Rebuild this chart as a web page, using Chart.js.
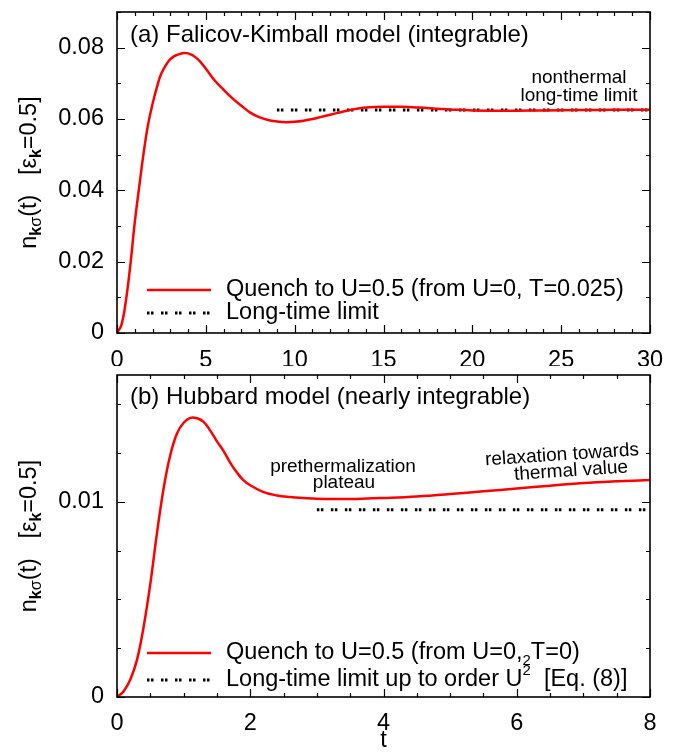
<!DOCTYPE html>
<html>
<head>
<meta charset="utf-8">
<script src="https://cdn.jsdelivr.net/npm/chart.js@4.4.1/dist/chart.umd.min.js"></script>
<style>
  body { margin: 0; background: #fff; }
  #wrap { position: relative; width: 673px; height: 752px; }
  canvas { position: absolute; left: 0; }
</style>
</head>
<body>
<div id="wrap">
  <canvas id="chartA" width="673" height="366" style="top:0;width:673px;height:366px"></canvas>
  <canvas id="chartB" width="673" height="386" style="top:366px;width:673px;height:386px"></canvas>
</div>
<script>
// (a) Falicov-Kimball quench
const tFK = [0, 0.25, 0.5, 0.75, 1, 1.25, 1.5, 1.75, 2, 2.25, 2.5, 3, 3.5, 4, 4.5, 5, 5.5, 6, 6.5, 7, 7.5, 8, 8.5, 9, 9.5, 10,
             10.5, 11, 11.5, 12, 12.5, 13, 13.5, 14, 15, 16, 17, 18, 19, 20, 22, 24, 26, 28, 30];
const nFK = [0, 0.0023, 0.009, 0.019, 0.031, 0.041, 0.0505, 0.0585, 0.0642, 0.069, 0.0728, 0.0768, 0.0782, 0.0784, 0.0770, 0.0741, 0.0708, 0.0682, 0.0658, 0.0637, 0.0618, 0.0605, 0.0597, 0.0593, 0.0591, 0.0592,
             0.0595, 0.0600, 0.0606, 0.0612, 0.0618, 0.0624, 0.0629, 0.0632, 0.0634, 0.0634, 0.0632, 0.0629, 0.0626, 0.0624, 0.0623, 0.0624, 0.0625, 0.0626, 0.0626];
const tLimFK = [9, 30];
const nLimFK = [0.0625, 0.0625];

// (b) Hubbard quench
const tHub = [0, 0.1, 0.2, 0.3, 0.4, 0.5, 0.6, 0.7, 0.8, 0.9, 1.0, 1.1, 1.2, 1.3, 1.4, 1.5, 1.6, 1.7, 1.8, 1.9, 2.0,
              2.2, 2.4, 2.6, 2.8, 3.0, 3.3, 3.6, 4.0, 4.5, 5.0, 5.5, 6.0, 6.5, 7.0, 7.5, 8.0];
const nHub = [0, 0.0003, 0.0009, 0.0019, 0.0036, 0.0058, 0.0084, 0.0107, 0.0124, 0.0135, 0.01405, 0.0143, 0.01428, 0.0141, 0.01365, 0.0131, 0.0126, 0.0120, 0.0115, 0.0111, 0.01085,
              0.0105, 0.01033, 0.01025, 0.0102, 0.01016, 0.01014, 0.01015, 0.0102, 0.01028, 0.0104, 0.01054, 0.01068, 0.01083, 0.01096, 0.01105, 0.01112];
const tLimHub = [3, 8];
const nLimHub = [0.0096, 0.0096];

// axis ranges and tick steps
const xRangeA = [0, 30], yRangeA = [0, 0.09];
const xRangeB = [0, 8], yRangeB = [0, 0.0165];
const xMajorA = 5, xMinorA = 1, yMajorA = 0.02, yMinorA = 0.01;
const xMajorB = 2, xMinorB = 0.5, yMajorB = 0.01, yMinorB = 0.0025;

const FONT = '"Liberation Sans", Arial, Helvetica, sans-serif';
const TXT = 23.5;

function pts(xs, ys) {
    return xs.map((x, i) => ({x: x, y: ys[i]}));
}

function drawRich(ctx, parts, x, y) {
    // parts: [text, size, dy, bold]
    let cx = x;
    for (const [txt, size, dy, bold] of parts) {
        ctx.font = (bold ? 'bold ' : '') + size + 'px ' + FONT;
        ctx.fillText(txt, cx, y + dy);
        cx += ctx.measureText(txt).width;
    }
    return cx;
}

function richWidth(ctx, parts) {
    let w = 0;
    for (const [txt, size, dy, bold] of parts) {
        ctx.font = (bold ? 'bold ' : '') + size + 'px ' + FONT;
        w += ctx.measureText(txt).width;
    }
    return w;
}

const yLabelParts = [
    ['n', TXT, 0, false], ['k', 16, 5, true], ['σ', 16, 5, false], ['(t)', TXT, 0, false],
    ['   [ε', TXT, 0, false], ['k', 16, 5, true], ['=0.5]', TXT, 0, false]
];

// frame with inward ticks on all four sides (gnuplot look)
const frameTicks = {
    id: 'frameTicks',
    afterDatasetsDraw(chart, args, opts) {
        const {ctx, chartArea: a, scales: {x, y}} = chart;
        ctx.save();
        ctx.strokeStyle = '#000';
        ctx.lineWidth = 1.2;
        ctx.beginPath();
        const isMajor = (v, step) => Math.abs(v / step - Math.round(v / step)) < 1e-6;
        for (let v = x.min; v <= x.max + 1e-9; v += opts.xMinor) {
            const px = Math.round(x.getPixelForValue(v)) + 0.5;
            const len = isMajor(v, opts.xMajor) ? 8 : 4;
            ctx.moveTo(px, a.bottom); ctx.lineTo(px, a.bottom - len);
            ctx.moveTo(px, a.top); ctx.lineTo(px, a.top + len);
        }
        for (let v = y.min; v <= y.max + 1e-12; v += opts.yMinor) {
            const py = Math.round(y.getPixelForValue(v)) + 0.5;
            const len = isMajor(v, opts.yMajor) ? 8 : 4;
            ctx.moveTo(a.left, py); ctx.lineTo(a.left + len, py);
            ctx.moveTo(a.right, py); ctx.lineTo(a.right - len, py);
        }
        ctx.stroke();
        ctx.lineWidth = 1.6;
        ctx.strokeRect(a.left, a.top, a.right - a.left, a.bottom - a.top);
        ctx.restore();
    }
};

// panel title, notes, legend and axis labels
const panelDecor = {
    id: 'panelDecor',
    afterDraw(chart, args, opts) {
        const {ctx, chartArea: a} = chart;
        ctx.save();
        ctx.fillStyle = '#000';
        ctx.textBaseline = 'middle';
        ctx.textAlign = 'left';
        ctx.font = '24px ' + FONT;
        ctx.fillText(opts.title, a.left + 13, opts.titleY);

        ctx.textAlign = 'center';
        if (opts.xTitle) {
            ctx.font = TXT + 'px ' + FONT;
            ctx.fillText(opts.xTitle, (a.left + a.right) / 2, opts.xTitleY);
        }
        for (const n of opts.notes) {
            ctx.save();
            ctx.translate(n.x, n.y);
            ctx.rotate((n.angle || 0) * Math.PI / 180);
            ctx.font = '19px ' + FONT;
            ctx.fillText(n.text, 0, 0);
            ctx.restore();
        }

        ctx.textAlign = 'left';
        for (const e of opts.legend) {
            const ds = chart.data.datasets[e.ds];
            ctx.save();
            ctx.strokeStyle = ds.borderColor;
            ctx.lineWidth = ds.borderWidth;
            ctx.setLineDash(ds.borderDash || []);
            ctx.beginPath();
            ctx.moveTo(147, e.y);
            ctx.lineTo(211, e.y);
            ctx.stroke();
            ctx.restore();
            drawRich(ctx, e.parts, 226, e.y);
        }

        // rotated y label
        ctx.textBaseline = 'alphabetic';
        const w = richWidth(ctx, yLabelParts);
        ctx.translate(36, (a.top + a.bottom) / 2);
        ctx.rotate(-Math.PI / 2);
        drawRich(ctx, yLabelParts, -w / 2, 0);
        ctx.restore();
    }
};

function makePanel(id, p) {
    const tickFont = {family: FONT, size: TXT};
    return new Chart(document.getElementById(id), {
        type: 'line',
        data: {
            datasets: [
                {data: pts(p.t, p.n), borderColor: '#ff0000', borderWidth: 2.5, pointRadius: 0, tension: 0.4},
                {data: pts(p.tLim, p.nLim), borderColor: '#000', borderWidth: 3, pointRadius: 0,
                 borderDash: [2.5, 1.5, 2.5, 7.5], borderCapStyle: 'butt'}
            ]
        },
        options: {
            responsive: false,
            animation: false,
            layout: {padding: {top: p.padTop, right: 23, left: 0, bottom: 0}},
            plugins: {
                legend: {display: false},
                tooltip: {enabled: false},
                frameTicks: {xMajor: p.xMajor, xMinor: p.xMinor, yMajor: p.yMajor, yMinor: p.yMinor},
                panelDecor: {title: p.title, titleY: p.titleY, notes: p.notes, legend: p.legend,
                             xTitle: p.xTitle, xTitleY: p.xTitleY}
            },
            scales: {
                x: {
                    type: 'linear', min: p.xRange[0], max: p.xRange[1],
                    grid: {display: false, drawTicks: false}, border: {display: false},
                    ticks: {stepSize: p.xMajor, padding: p.xPad, color: '#000', font: tickFont, maxRotation: 0,
                            autoSkip: false},
                    afterFit: s => { s.height = p.xAxisH; s.paddingLeft = 0; s.paddingRight = 0; }
                },
                y: {
                    type: 'linear', min: p.yRange[0], max: p.yRange[1],
                    grid: {display: false, drawTicks: false}, border: {display: false},
                    ticks: {stepSize: p.yMajor, includeBounds: false, padding: 13, color: '#000', font: tickFont,
                            callback: v => v === 0 ? '0' : v.toFixed(2)},
                    afterFit: s => { s.width = 117; s.paddingTop = 0; s.paddingBottom = 0; }
                }
            }
        },
        plugins: [frameTicks, panelDecor]
    });
}

makePanel('chartA', {
    t: tFK, n: nFK, tLim: tLimFK, nLim: nLimFK,
    xRange: xRangeA, yRange: yRangeA,
    xMajor: xMajorA, xMinor: xMinorA, yMajor: yMajorA, yMinor: yMinorA,
    padTop: 12, xAxisH: 33, xPad: 13, xTitle: '',
    title: '(a) Falicov-Kimball model (integrable)', titleY: 35,
    notes: [
        {text: 'nonthermal', x: 579, y: 78},
        {text: 'long-time limit', x: 579, y: 96}
    ],
    legend: [
        {ds: 0, y: 290, parts: [['Quench to U=0.5 (from U=0, T=0.025)', TXT, 0, false]]},
        {ds: 1, y: 313, parts: [['Long-time limit', TXT, 0, false]]}
    ]
});

makePanel('chartB', {
    t: tHub, n: nHub, tLim: tLimHub, nLim: nLimHub,
    xRange: xRangeB, yRange: yRangeB,
    xMajor: xMajorB, xMinor: xMinorB, yMajor: yMajorB, yMinor: yMinorB,
    padTop: 9, xAxisH: 55, xPad: 12, xTitle: 't', xTitleY: 375,
    title: '(b) Hubbard model (nearly integrable)', titleY: 31,
    notes: [
        {text: 'prethermalization', x: 343, y: 101},
        {text: 'plateau', x: 344, y: 117},
        {text: 'relaxation towards', x: 562, y: 89, angle: -3.8},
        {text: 'thermal value', x: 571, y: 105, angle: -3.8}
    ],
    legend: [
        {ds: 0, y: 287, parts: [['Quench to U=0.5 (from U=0,', TXT, 0, false], ['2', 15, 8, false],
                                ['T=0)', TXT, 0, false]]},
        {ds: 1, y: 314, parts: [['Long-time limit up to order U', TXT, 0, false], ['2', 15, -9, false],
                                ['  [Eq. (8)]', TXT, 0, false]]}
    ]
});
</script>
</body>
</html>
